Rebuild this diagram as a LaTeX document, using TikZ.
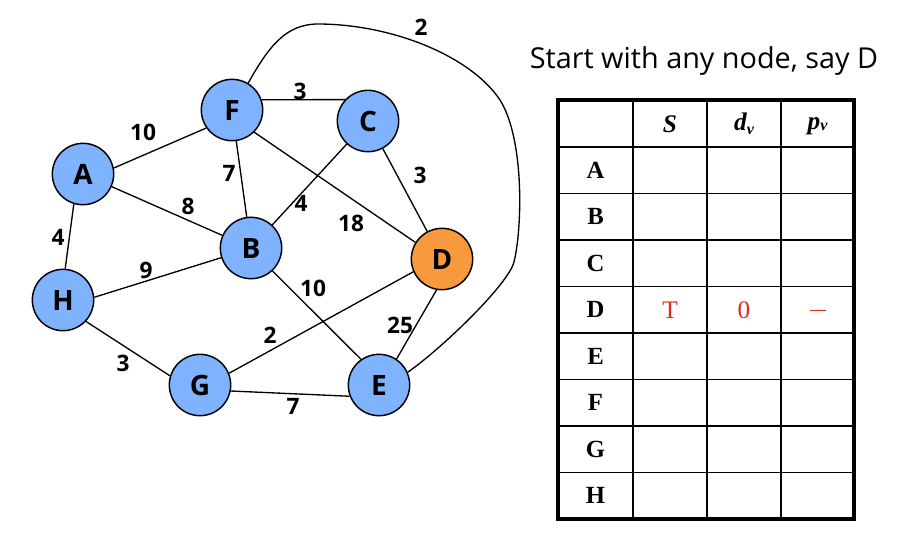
\documentclass[tikz,border=0pt]{standalone}
\usepackage{fontspec}
\setmainfont{Liberation Serif}
\newfontfamily\labfont{Open Sans}
\definecolor{nodeblue}{RGB}{128,179,255}
\definecolor{nodeorange}{RGB}{247,153,61}
\definecolor{tabred}{RGB}{228,40,28}
\tikzset{
  vert/.style={circle, draw=black, line width=1.1pt, fill=nodeblue, minimum size=46pt, inner sep=0pt,
    font=\labfont\bfseries\fontsize{21}{23}\selectfont},
  startvert/.style={vert, fill=nodeorange},
  edge/.style={draw=black, line width=1.0pt},
  wlab/.style={font=\labfont\bfseries\fontsize{17}{19}\selectfont, inner sep=0pt},
  hdr/.style={font=\bfseries\itshape\fontsize{19}{21}\selectfont, inner sep=0pt},
  rowlab/.style={font=\bfseries\fontsize{18.5}{20}\selectfont, inner sep=0pt},
  redtxt/.style={font=\fontsize{19}{21}\selectfont, text=tabred, inner sep=0pt},
  thin/.style={line width=1.1pt},
  thick/.style={line width=2.4pt}
}
\begin{document}
\begin{tikzpicture}[x=0.75pt,y=-0.75pt]
\useasboundingbox (0,0) rectangle (922,558);
% vertices
\node[vert] (nA) at (83,174) {A};
\node[vert] (nB) at (251,248) {B};
\node[vert] (nC) at (368,121) {C};
\node[startvert] (nD) at (442,259) {D};
\node[vert] (nE) at (379,385) {E};
\node[vert] (nF) at (232,110) {F};
\node[vert] (nG) at (200,385) {G};
\node[vert] (nH) at (63,300) {H};
% edges
\draw[edge] (nA.11) -- (nF.215);
\draw[edge] (nA) -- (nB);
\draw[edge] (nA.-107) -- (nH.86);
\draw[edge] (nF.19) -- (nC.137);
\draw[edge] (nF) -- (nB);
\draw[edge] (nF.-45) -- (nD.148);
\draw[edge] (nC) -- (nB);
\draw[edge] (nC) -- (nD);
\draw[edge] (nH.5) -- (nB.198);
\draw[edge] (nH.-43) -- (nG.163);
\draw[edge] (nB.-47) -- (nE.125);
\draw[edge] (nG.22) -- (nD.204);
\draw[edge] (nG.-11) -- (nE.201);
\draw[edge] (nE.56) -- (nD.-100);
\draw[edge] (nF.59) .. controls (268,48) and (285,24) .. (318,24)
  .. controls (390,24) and (470,55) .. (500,100)
  .. controls (525,140) and (522,230) .. (514,262)
  .. controls (508,285) and (440,350) .. (nE.24);
% weights
\node[wlab] (w1) at (143,132) {10};
\node[wlab] (w2) at (300,91) {3};
\node[wlab] (w3) at (229,173) {7};
\node[wlab] (w4) at (188,206) {8};
\node[wlab] (w5) at (301,203) {4};
\node[wlab] (w6) at (351,223) {18};
\node[wlab] (w7) at (420,175) {3};
\node[wlab] (w8) at (58,237) {4};
\node[wlab] (w9) at (146,270) {9};
\node[wlab] (w10) at (313,288) {10};
\node[wlab] (w11) at (400,325) {25};
\node[wlab] (w12) at (270,335) {2};
\node[wlab] (w13) at (123,363) {3};
\node[wlab] (w14) at (293,406) {7};
\node[wlab] (w15) at (421,27) {2};
% title
\node[font=\labfont\fontsize{21.6}{23}\selectfont, anchor=base, inner sep=0pt] (title) at (704,68) {Start with any node, say D};
% table grid
\foreach \y in {147,193.5,240,286.5,333,379.5,426,472.5} \draw[thin] (558,\y) -- (854,\y);
\foreach \x in {633,707,781} \draw[thin] (\x,100) -- (\x,519);
\draw[thick] (558,100) rectangle (854,519);
% header
\node[hdr] (hS) at (670,124) {S};
\node[hdr] (hd) at (744,124) {d\raisebox{-0.35ex}{\fontsize{12}{13}\selectfont v}};
\node[hdr] (hp) at (817.5,126) {p\raisebox{-0.1ex}{\fontsize{12}{13}\selectfont v}};
% row labels
\foreach \n/\t [count=\i] in {rA/A,rB/B,rC/C,rD/D,rE/E,rF/F,rG/G,rH/H}
  \node[rowlab] (\n) at (595.5,{123.8+46.5*\i}) {\t};
\node[redtxt] (dS) at (670,310.5) {T};
\node[redtxt] (dd) at (744,310.5) {0};
\node[redtxt] (dp) at (817.5,312) {\rule[0.3ex]{12pt}{1.1pt}};
\end{tikzpicture}
\end{document}
